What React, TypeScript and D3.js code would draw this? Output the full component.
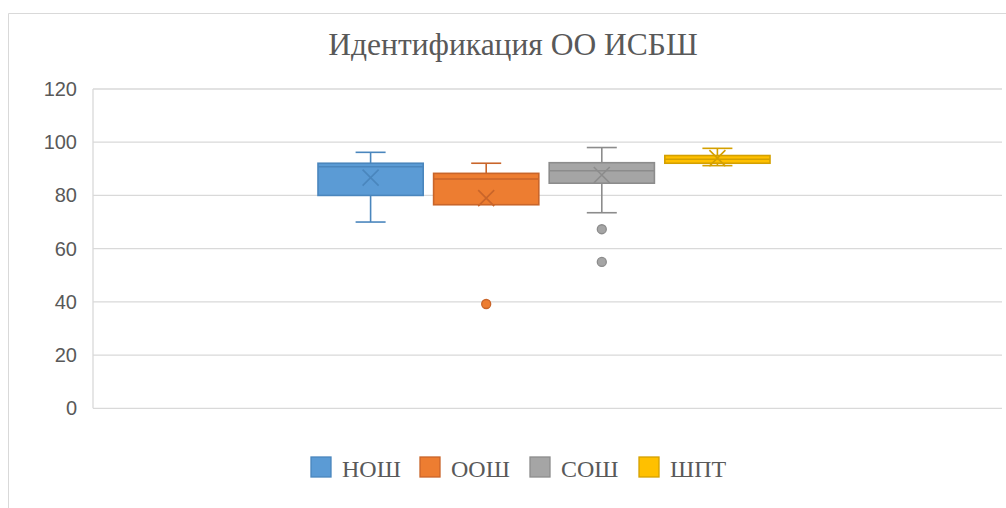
import React from "react";
import * as d3 from "d3";

const title = "Идентификация ОО ИСБШ";
const seriesNames = ["НОШ", "ООШ", "СОШ", "ШПТ"];
const whiskerLow = [70, 77, 73.5, 91.2];
const q1 = [80, 76.5, 84.6, 92.1];
const medians = [90.8, 86.2, 89.3, 93.6];
const q3 = [92.1, 88.3, 92.3, 95];
const whiskerHigh = [96.2, 92.1, 98, 97.7];
const means = [86.7, 79, 87.7, 94];
const outliers: number[][] = [[], [39.2], [67.3, 55], []];
const yTicks = [0, 20, 40, 60, 80, 100, 120];

const fills = ["#5b9bd5", "#ed7d31", "#a5a5a5", "#ffc000"];
const strokes = ["#4a86bd", "#c9652a", "#8c8c8c", "#d4a000"];

export default function App() {
  const W = 1006, H = 508;
  const plot = { left: 93, right: 1002, top: 89, bottom: 408.3 };
  const y = d3.scaleLinear().domain([0, 120]).range([plot.bottom, plot.top]);
  const x = d3.scaleBand<string>().domain(seriesNames).range([318, 770]).paddingInner(0.09).paddingOuter(0);
  const bw = x.bandwidth();
  const capW = 30;
  const xs = 8;

  return (
    <svg width={W} height={H} style={{ position: "absolute", left: 0, top: 0, background: "#fff" }}>
      <rect x={0} y={0} width={W} height={H} fill="#fff" />
      <line x1={8.5} y1={13.5} x2={W} y2={13.5} stroke="#d9d9d9" strokeWidth={1} />
      <line x1={8.5} y1={13.5} x2={8.5} y2={H} stroke="#d9d9d9" strokeWidth={1} />
      <text x={513} y={55} textAnchor="middle" fontFamily="'Liberation Serif', 'Times New Roman', serif" fontSize={31.5} fill="#595959">{title}</text>
      {yTicks.map((t) => (
        <g key={t}>
          <line x1={plot.left} x2={plot.right} y1={y(t)} y2={y(t)} stroke="#d9d9d9" strokeWidth={1.3} />
          <text x={77} y={y(t) + 7} textAnchor="end" fontFamily="'Liberation Sans', Arial, sans-serif" fontSize={20} fill="#595959">{t}</text>
        </g>
      ))}
      <line x1={plot.left} x2={plot.left} y1={plot.top} y2={plot.bottom} stroke="#d9d9d9" strokeWidth={1.3} />
      {seriesNames.map((s, i) => {
        const x0 = x(s)!;
        const cx = x0 + bw / 2;
        const st = strokes[i];
        return (
          <g key={s}>
            <line x1={cx} x2={cx} y1={y(q3[i])} y2={y(whiskerHigh[i])} stroke={st} strokeWidth={1.6} />
            <line x1={cx} x2={cx} y1={y(q1[i])} y2={y(whiskerLow[i])} stroke={st} strokeWidth={1.6} />
            <line x1={cx - capW / 2} x2={cx + capW / 2} y1={y(whiskerHigh[i])} y2={y(whiskerHigh[i])} stroke={st} strokeWidth={1.6} />
            <line x1={cx - capW / 2} x2={cx + capW / 2} y1={y(whiskerLow[i])} y2={y(whiskerLow[i])} stroke={st} strokeWidth={1.6} />
            <rect x={x0} y={y(q3[i])} width={bw} height={y(q1[i]) - y(q3[i])} fill={fills[i]} stroke={st} strokeWidth={1.6} />
            <line x1={x0} x2={x0 + bw} y1={y(medians[i])} y2={y(medians[i])} stroke={st} strokeWidth={1.6} />
            <path d={`M${cx - xs},${y(means[i]) - xs}L${cx + xs},${y(means[i]) + xs}M${cx - xs},${y(means[i]) + xs}L${cx + xs},${y(means[i]) - xs}`} stroke={st} strokeWidth={1.6} fill="none" />
            {outliers[i].map((o, j) => (
              <circle key={j} cx={cx} cy={y(o)} r={4.5} fill={fills[i]} stroke={st} strokeWidth={1.3} />
            ))}
          </g>
        );
      })}
      <Legend />
    </svg>
  );
}

function Legend() {
  const widths = [57, 58, 57, 51];
  const sq = 20;
  const gapAfterSq = 11;
  const gapBetween = 21;
  const total = widths.reduce((a, w) => a + sq + gapAfterSq + w, 0) + gapBetween * (widths.length - 1);
  let cur = 516 - total / 2;
  return (
    <g>
      {seriesNames.map((s, i) => {
        const sx = cur;
        cur += sq + gapAfterSq + widths[i] + gapBetween;
        return (
          <g key={s}>
            <rect x={sx} y={457} width={sq} height={sq} fill={fills[i]} stroke={strokes[i]} strokeWidth={1.3} />
            <text x={sx + sq + gapAfterSq} y={477} fontFamily="'Liberation Serif', 'Times New Roman', serif" fontSize={24} fill="#595959">{s}</text>
          </g>
        );
      })}
    </g>
  );
}
